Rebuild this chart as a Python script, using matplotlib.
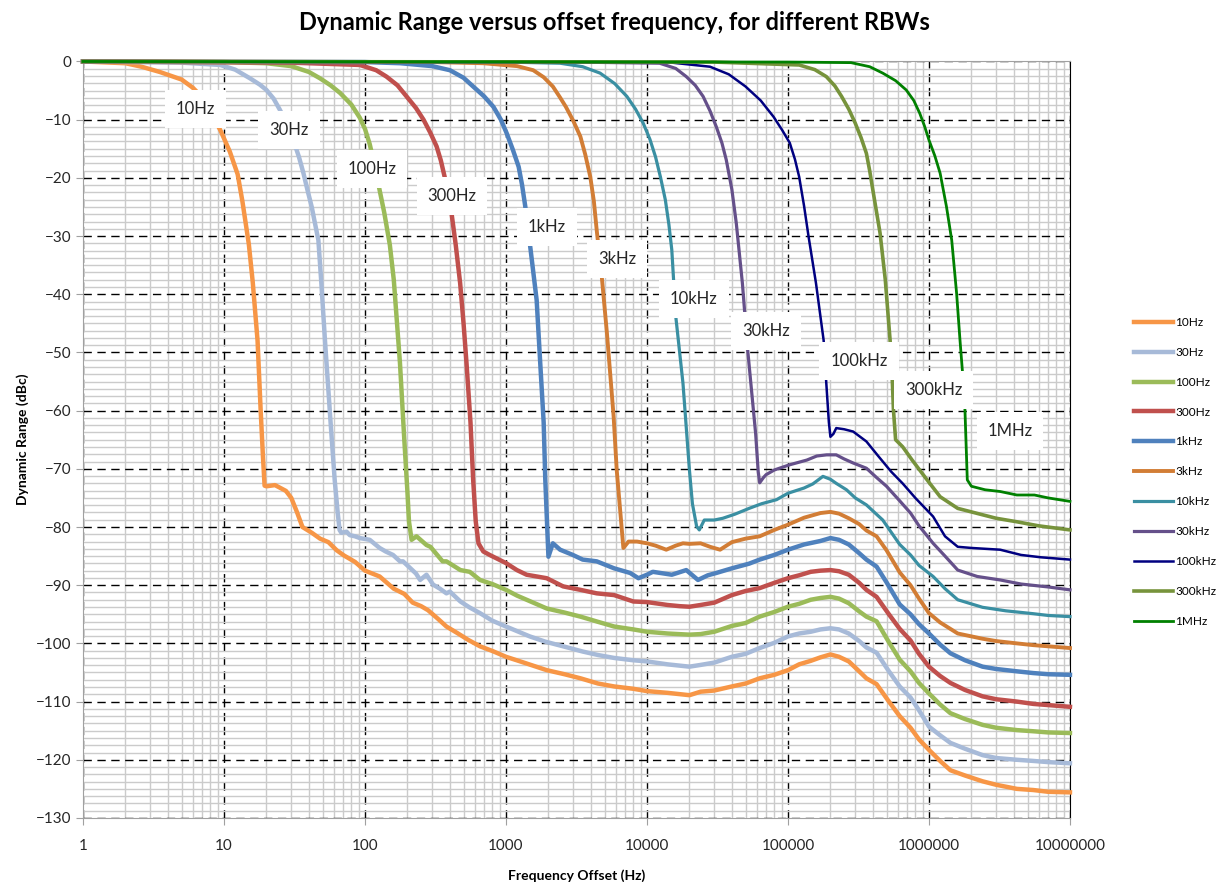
import matplotlib.pyplot as plt
import matplotlib.ticker as mticker

plt.rcParams['font.family'] = ['Lato', 'DejaVu Sans']

# --- data (Hz, dBc) ---
f_10 = [1, 2, 2.6, 3.5, 5, 6, 6.9, 8, 9.5, 11, 12.5, 13.5, 15, 16, 17.3, 18.2, 18.9, 19.4, 20, 23,
        27.5, 30, 33, 36, 42, 48, 55, 63, 71, 85, 100, 127, 160, 190, 218, 250, 280, 330, 378, 450,
        540, 654, 800, 1000, 1300, 1945, 2600, 3374, 4500, 5850, 8000, 1e4, 1.4e4, 2e4, 2.4e4, 3e4,
        4e4, 5e4, 6.3e4, 8e4, 1e5, 1.2e5, 1.45e5, 1.7e5, 2e5, 2.3e5, 2.7e5, 3.2e5, 3.6e5, 4.25e5,
        5.2e5, 6.2e5, 7.4e5, 8.5e5, 1e6, 1.2e6, 1.42e6, 1.8e6, 2.4e6, 3e6, 4.2e6, 5.5e6, 7e6, 1e7]
db_10 = [0, -0.3, -0.9, -1.8, -3.1, -4.5, -6, -8.5, -12, -15.5, -19.4, -24, -31.4, -38, -48, -60, -68,
         -72.9, -73, -72.8, -73.8, -75, -77.5, -80, -81, -82, -82.6, -84, -84.9, -86, -87.5, -88.5,
         -90.6, -91.5, -93, -93.6, -94.3, -95.8, -97.1, -98.2, -99.4, -100.5, -101.3, -102.3, -103.2,
         -104.6, -105.3, -106, -106.9, -107.4, -107.8, -108.2, -108.5, -108.9, -108.3, -108.1, -107.4,
         -106.9, -106, -105.4, -104.6, -103.6, -103, -102.4, -101.9, -102.3, -103.1, -104.8, -106,
         -107, -110, -112.5, -114.5, -116.5, -118.3, -120.2, -121.8, -122.7, -123.7, -124.3, -125,
         -125.2, -125.5, -125.6]

f_30 = [1, 5, 9.4, 12, 15.3, 18, 20, 22.5, 24.9, 28, 31, 34, 36.6, 39, 41.9, 44, 46.7, 49, 52, 57, 61,
        64, 66, 68, 74, 78, 85, 92, 108, 127, 140, 158, 177, 186, 208, 230, 246, 273, 304, 340, 378,
        400, 475, 550, 654, 800, 1000, 1200, 1475, 1900, 2540, 3500, 4500, 5850, 8000, 1e4, 1.4e4,
        2e4, 2.4e4, 3e4, 4e4, 5e4, 6.3e4, 8e4, 1e5, 1.2e5, 1.45e5, 1.7e5, 2e5, 2.3e5, 2.7e5, 3.2e5,
        3.6e5, 4.25e5, 5.2e5, 6.2e5, 7.4e5, 8.5e5, 1e6, 1.2e6, 1.42e6, 1.8e6, 2.4e6, 3e6, 4.2e6,
        5.5e6, 7e6, 1e7]
db_30 = [0, -0.2, -0.6, -1.4, -2.9, -4, -4.9, -6.4, -8.3, -10.8, -13.5, -16.4, -19.2, -22, -25, -27.6,
         -30.7, -38, -47.9, -62, -72, -77.5, -80.5, -81, -80.8, -81.4, -81.6, -81.9, -82.2, -83.6,
         -84.2, -84.8, -85.9, -85.9, -87, -88, -89.1, -88.2, -89.9, -90.6, -91.4, -91.1, -92.8, -93.8,
         -94.8, -96.1, -97.1, -97.9, -98.8, -99.7, -100.5, -101.4, -102, -102.5, -102.9, -103.1,
         -103.6, -104, -103.7, -103.3, -102.3, -101.8, -100.8, -99.9, -98.8, -98.3, -98, -97.6,
         -97.4, -97.6, -98.3, -99.6, -100.7, -101.6, -104.8, -107.4, -109.3, -111.5, -114.3, -115.8,
         -117.1, -118.1, -119.2, -119.7, -120, -120.2, -120.4, -120.6]

f_100 = [1, 10, 20, 30, 40, 48, 57, 66.5, 80, 92, 100, 108, 116, 124, 137, 150, 160, 168, 177, 190,
         200, 205, 214, 232, 273, 291, 355, 378, 475, 553, 654, 800, 1000, 1200, 1400, 1945, 2600,
         3374, 4500, 5850, 8000, 1e4, 1.4e4, 2e4, 2.4e4, 3e4, 4e4, 5e4, 6.3e4, 8e4, 1e5, 1.2e5,
         1.45e5, 1.7e5, 2e5, 2.3e5, 2.7e5, 3.2e5, 3.6e5, 4.25e5, 5.2e5, 6.2e5, 7.4e5, 8.5e5, 1e6,
         1.2e6, 1.42e6, 1.8e6, 2.4e6, 3e6, 4.2e6, 5.5e6, 7e6, 1e7]
db_100 = [0, -0.1, -0.3, -0.8, -1.8, -2.9, -4.1, -5.4, -7.4, -9.7, -11.6, -14.2, -17.5, -20.9, -26,
          -31.5, -37.5, -44.4, -51.8, -65, -74, -79, -82.2, -81.6, -83.1, -83.4, -85.9, -85.9, -87.4,
          -87.7, -89.1, -89.8, -90.8, -91.8, -92.5, -94, -94.7, -95.4, -96.3, -97.1, -97.6, -98,
          -98.3, -98.5, -98.4, -98, -97, -96.5, -95.4, -94.6, -93.7, -93.2, -92.5, -92.2, -92, -92.3,
          -93.1, -94.5, -95.4, -96.2, -99.8, -102.8, -104.8, -106.8, -108.6, -110.5, -112, -113,
          -114, -114.5, -114.9, -115.1, -115.3, -115.4]

f_300 = [1, 30, 92, 120, 142, 170, 197, 230, 260, 290, 322, 345, 367, 390, 411, 440, 473, 500, 525,
         560, 585, 610, 638, 690, 766, 1000, 1195, 1400, 1650, 1945, 2540, 3374, 4400, 5850, 8000,
         1e4, 1.4e4, 1.7e4, 2e4, 2.4e4, 3e4, 4e4, 5e4, 6.3e4, 8e4, 1e5, 1.2e5, 1.45e5, 1.7e5, 2e5,
         2.3e5, 2.7e5, 3.2e5, 3.6e5, 4.25e5, 5.2e5, 6.2e5, 7.4e5, 8.5e5, 1e6, 1.2e6, 1.42e6, 1.8e6,
         2.4e6, 3e6, 4.2e6, 5.5e6, 7e6, 1e7]
db_300 = [0, -0.2, -0.6, -1.5, -2.6, -4.1, -6, -8, -10, -12.2, -14.6, -17, -19.8, -22.8, -26.1,
          -31.5, -38.1, -45, -51.9, -62, -71.9, -79, -82.8, -84.2, -84.8, -86.2, -87.4, -88.2, -88.5,
          -88.8, -90.2, -90.8, -91.4, -91.7, -92.8, -92.9, -93.4, -93.6, -93.7, -93.4, -93, -91.7,
          -91, -90.5, -89.6, -88.8, -88.3, -87.7, -87.5, -87.4, -87.6, -88.2, -89.6, -90.8, -92,
          -95, -97.5, -99.5, -101.8, -104, -105.6, -106.8, -108, -109.1, -109.6, -110, -110.4,
          -110.6, -110.9]

f_1k = [1, 100, 178, 300, 400, 500, 585, 700, 815, 920, 1010, 1120, 1230, 1300, 1370, 1475, 1650,
        1750, 1850, 1900, 1960, 2000, 2150, 2420, 2980, 3500, 4400, 5850, 7600, 8700, 1e4, 1.1e4,
        1.5e4, 1.9e4, 2.3e4, 2.7e4, 3.1e4, 4e4, 5.3e4, 6.3e4, 8e4, 1e5, 1.3e5, 1.7e5, 2e5, 2.3e5,
        2.7e5, 3.2e5, 3.6e5, 4.25e5, 5e5, 6.2e5, 7.4e5, 8.5e5, 1e6, 1.2e6, 1.42e6, 1.8e6, 2.4e6,
        3e6, 4.2e6, 5.5e6, 7e6, 1e7]
db_1k = [0, -0.1, -0.3, -0.8, -1.5, -2.8, -4.3, -6, -7.8, -10, -12.3, -15.2, -18.1, -21.2, -24.9,
         -31.2, -41, -51.9, -62, -71.9, -80, -85.1, -82.8, -83.9, -84.8, -85.6, -85.9, -87.1, -87.9,
         -88.8, -88.2, -87.7, -88.2, -87.4, -89.1, -88.3, -87.9, -87.1, -86.3, -85.6, -84.8, -83.9,
         -83, -82.4, -81.9, -82.2, -83, -84.5, -85.6, -86.8, -89.5, -93.3, -95, -96.7, -98.3,
         -100.2, -101.7, -102.9, -104, -104.4, -104.8, -105.1, -105.3, -105.4]

f_3k = [1, 300, 690, 1200, 1560, 1850, 2150, 2420, 2660, 3000, 3370, 3650, 3960, 4200, 4400, 4780,
        5200, 5800, 6100, 6500, 6800, 7400, 8500, 1e4, 1.15e4, 1.37e4, 1.6e4, 1.8e4, 2e4, 2.4e4,
        2.8e4, 3.3e4, 4e4, 5e4, 6.3e4, 8e4, 1e5, 1.3e5, 1.7e5, 2e5, 2.3e5, 2.7e5, 3.2e5, 3.6e5,
        4.25e5, 5e5, 6.2e5, 7.4e5, 8.5e5, 1e6, 1.2e6, 1.6e6, 2.4e6, 3e6, 4.2e6, 5.5e6, 7e6, 1e7]
db_3k = [0, -0.1, -0.3, -0.8, -1.5, -2.7, -4.3, -6.2, -7.8, -10.2, -12.9, -16, -19.8, -24, -29, -37,
         -46.7, -61, -70.2, -78, -83.6, -82.5, -82.5, -82.8, -83.2, -83.9, -83.2, -82.8, -82.9,
         -82.8, -83.4, -83.9, -82.6, -82, -81.6, -80.5, -79.6, -78.4, -77.6, -77.4, -77.7, -78.5,
         -79.5, -80.6, -81.6, -84, -87.8, -90, -92.3, -94.8, -96.4, -98.3, -99.2, -99.6, -100,
         -100.3, -100.5, -100.8]

f_10k = [1, 1000, 2420, 3500, 4650, 5900, 7200, 8300, 9400, 10500, 11500, 12500, 13500, 14300, 15000,
         16000, 18000, 20000, 21000, 22500, 23500, 25500, 3e4, 3.45e4, 4.2e4, 5.3e4, 6.5e4, 8.3e4,
         1e5, 1.3e5, 1.5e5, 1.77e5, 2e5, 2.2e5, 2.6e5, 3e5, 3.6e5, 4.7e5, 6.2e5, 7.4e5, 8.5e5,
         1.07e6, 1.3e6, 1.6e6, 2.4e6, 3.5e6, 5.5e6, 7e6, 1e7]
db_10k = [0, -0.1, -0.3, -0.9, -2, -3.8, -6, -8.2, -10.6, -13.4, -16.4, -20, -23.8, -28, -32.4,
          -43.8, -55.3, -70.2, -76, -79.9, -80.5, -78.8, -78.8, -78.5, -77.8, -76.8, -76, -75.3,
          -74.2, -73.3, -72.6, -71.3, -71.8, -72.5, -73.6, -75, -76.2, -78.8, -83, -84.8, -86.6,
          -88.5, -90.6, -92.5, -93.8, -94.4, -94.9, -95.2, -95.4]

f_30k = [1, 3000, 12300, 16000, 19000, 22000, 25000, 28000, 31000, 34000, 36500, 40000, 43000, 47500,
         51800, 59000, 61500, 63000, 67000, 70000, 8e4, 1.03e5, 1.36e5, 1.6e5, 1.88e5, 2.2e5, 2.5e5,
         2.9e5, 3.6e5, 4.25e5, 5e5, 6.2e5, 7.4e5, 8.5e5, 1.07e6, 1.3e6, 1.6e6, 2.2e6, 3.2e6, 4.5e6,
         7e6, 1e7]
db_30k = [0, -0.1, -0.3, -1.2, -2.6, -4.1, -6, -8.5, -11.2, -14, -16.9, -22, -27.8, -38.1, -49.6,
          -64, -70.5, -72.4, -71.5, -71, -70.2, -69.3, -68.5, -67.8, -67.6, -67.6, -68.3, -69,
          -69.9, -71.5, -73, -75.5, -77.6, -79.8, -82.8, -85, -87.4, -88.5, -89.1, -89.8, -90.3,
          -90.8]

f_100k = [1, 15000, 28000, 38000, 50000, 64000, 79000, 91000, 1.03e5, 1.12e5, 1.2e5, 1.3e5, 1.4e5,
          1.58e5, 1.79e5, 1.87e5, 1.95e5, 2.0e5, 2.1e5, 2.2e5, 2.5e5, 2.9e5, 3.6e5, 4.4e5, 5.4e5,
          6.5e5, 8e5, 1.07e6, 1.3e6, 1.6e6, 2e6, 3.2e6, 4.5e6, 6.2e6, 1e7]
db_100k = [0, -0.2, -0.9, -2.2, -4.3, -6.7, -9.5, -11.8, -14, -16.8, -19.8, -24.8, -30.1, -38.1,
           -47.9, -55.3, -62, -64.5, -64, -63, -63.2, -63.6, -65.3, -67.9, -70.5, -72.5, -75, -78.2,
           -81.6, -83.4, -83.6, -83.9, -84.8, -85.2, -85.6]

f_300k = [1, 30000, 1.2e5, 1.55e5, 1.87e5, 2.15e5, 2.4e5, 2.7e5, 3.0e5, 3.3e5, 3.6e5, 3.8e5, 4.0e5,
          4.5e5, 4.9e5, 5.3e5, 5.5e5, 5.6e5, 5.8e5, 6.5e5, 7.6e5, 9.7e5, 1.2e6, 1.6e6, 2.4e6, 3e6,
          4.2e6, 6e6, 1e7]
db_300k = [0, -0.1, -0.6, -1.4, -2.6, -4.2, -6, -8.2, -10.6, -13.1, -15.8, -18.8, -22.1, -29.5,
           -37.5, -47.9, -55, -59.9, -65, -66.2, -68.5, -71.9, -74.8, -76.8, -77.9, -78.5, -79.1,
           -79.8, -80.5]

f_1M = [1, 1e5, 2.8e5, 3.8e5, 4.7e5, 5.8e5, 6.9e5, 7.8e5, 8.6e5, 9.3e5, 1.0e6, 1.1e6, 1.2e6, 1.33e6,
        1.45e6, 1.57e6, 1.66e6, 1.75e6, 1.8e6, 1.87e6, 2.0e6, 2.5e6, 3.2e6, 4.2e6, 5.6e6, 7e6, 1e7]
db_1M = [0, -0.1, -0.2, -0.9, -2, -3.3, -4.9, -6.7, -8.9, -11.1, -13.5, -16.2, -19.2, -24.9, -30.7,
         -39.8, -47.9, -55, -59.9, -71.9, -73, -73.6, -73.9, -74.5, -74.5, -75, -75.6]

names = ['10Hz', '30Hz', '100Hz', '300Hz', '1kHz', '3kHz', '10kHz', '30kHz', '100kHz', '300kHz', '1MHz']
freqs = [f_10, f_30, f_100, f_300, f_1k, f_3k, f_10k, f_30k, f_100k, f_300k, f_1M]
levels = [db_10, db_30, db_100, db_300, db_1k, db_3k, db_10k, db_30k, db_100k, db_300k, db_1M]
colors = ['#F79646', '#A7BAD8', '#9BBB59', '#C0504D', '#4F81BD', '#D27D35',
          '#3A8FA2', '#65508A', '#000080', '#77933C', '#008000']
widths = [3.2, 3.2, 3.2, 3.2, 3.2, 2.8, 2.3, 2.3, 1.8, 2.6, 2.0]

decades = [1, 10, 100, 1000, 10000, 100000, 1000000, 10000000]

# label positions (Hz, dBc)
label_f = [6.3, 28.9, 112, 414, 1954, 6120, 21500, 69800, 319000, 1.08e6, 3.75e6]
label_db = [-8.2, -11.8, -18.5, -23.1, -28.4, -33.9, -40.8, -46.3, -51.5, -56.4, -63.5]

fig = plt.figure(figsize=(12.28, 8.82), dpi=100)
ax = fig.add_axes([0.0676, 0.0726, 0.8037, 0.8577])

for f, d, c, w, n in zip(freqs, levels, colors, widths, names):
    ax.plot(f, d, color=c, lw=w, label=n, clip_on=False, zorder=3, solid_joinstyle='round')

for n, x, y in zip(names, label_f, label_db):
    ax.text(x, y, n, fontsize=12, ha='center', va='center', color='#262626', zorder=6,
            bbox=dict(facecolor='white', edgecolor='none', boxstyle='square,pad=0.65'))

ax.set_xscale('log')
ax.set_xlim(1, 1e7)
ax.set_ylim(-130, 0)
ax.xaxis.set_major_locator(mticker.FixedLocator(decades))
ax.xaxis.set_minor_locator(mticker.LogLocator(base=10, subs=range(2, 10), numticks=100))
ax.xaxis.set_major_formatter(mticker.FixedFormatter([str(d) for d in decades]))
ax.xaxis.set_minor_formatter(mticker.NullFormatter())
ax.yaxis.set_major_locator(mticker.MultipleLocator(10))
ax.yaxis.set_minor_locator(mticker.MultipleLocator(1.25))

ax.grid(which='minor', color='#CBCBCB', lw=1.0, ls='-', zorder=0)
ax.grid(which='major', color='black', lw=1.0, ls=(0, (6, 4)), zorder=1)
ax.set_axisbelow(True)

ax.tick_params(axis='both', which='major', labelsize=11, colors='#A0A0A0', labelcolor='#262626',
               length=5, direction='out')
ax.tick_params(axis='both', which='minor', length=0)
ax.tick_params(axis='x', pad=10)
for s in ['left', 'bottom', 'top']:
    ax.spines[s].set_color('#A0A0A0')
ax.spines['right'].set_color('black')

ax.set_xlabel('Frequency Offset (Hz)', fontsize=10, fontweight='bold', labelpad=12)
ax.set_ylabel('Dynamic Range (dBc)', fontsize=10, fontweight='bold', labelpad=5)
fig.text(0.5, 0.975, 'Dynamic Range versus offset frequency, for different RBWs', fontsize=17,
         fontweight='bold', ha='center', va='center')

leg = fig.legend(loc='center left', bbox_to_anchor=(0.915, 0.465), frameon=False, fontsize=8.5,
                 handlelength=3.3, handletextpad=0.15, labelspacing=1.6)

fig.savefig('out.png', dpi=100)
